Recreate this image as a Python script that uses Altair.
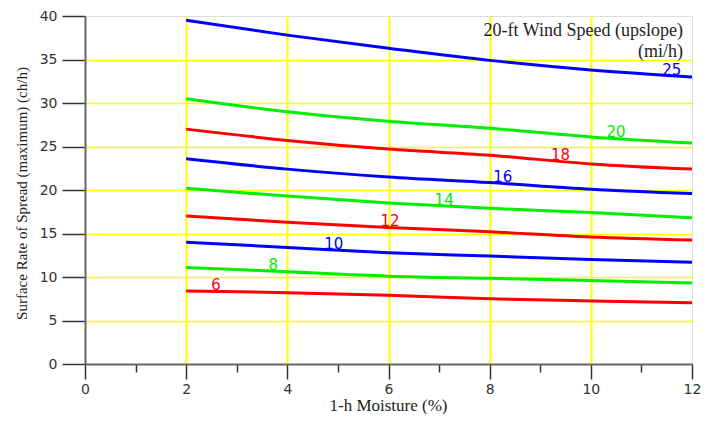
import altair as alt
import pandas as pd
import numpy as np

moisture = [2, 4, 6, 8, 10, 12]
wind_speeds = [6, 8, 10, 12, 14, 16, 18, 20, 25]
ros_6 = [8.4, 8.2, 7.9, 7.5, 7.25, 7.05]
ros_8 = [11.1, 10.6, 10.1, 9.85, 9.6, 9.3]
ros_10 = [14.0, 13.4, 12.8, 12.4, 12.0, 11.7]
ros_12 = [17.0, 16.3, 15.7, 15.2, 14.6, 14.25]
ros_14 = [20.2, 19.3, 18.5, 17.9, 17.4, 16.8]
ros_16 = [23.6, 22.4, 21.5, 20.85, 20.1, 19.6]
ros_18 = [27.0, 25.7, 24.7, 24.0, 23.0, 22.4]
ros_20 = [30.5, 29.0, 27.9, 27.1, 26.1, 25.4]
ros_25 = [39.5, 37.8, 36.3, 34.9, 33.8, 33.0]
series = [ros_6, ros_8, ros_10, ros_12, ros_14, ros_16, ros_18, ros_20, ros_25]
line_colors = ["#ff0000", "#00ee00", "#0000ff", "#ff0000", "#00ee00",
               "#0000ff", "#ff0000", "#00ee00", "#0000ff"]
label_moisture = [2.59, 3.72, 4.92, 6.03, 7.1, 8.26, 9.4, 10.5, 11.6]

rows = []
for ws, vals in zip(wind_speeds, series):
    for m, v in zip(moisture, vals):
        rows.append({"moisture": m, "ros": v, "wind": str(ws)})
df = pd.DataFrame(rows)

lab_rows = []
for ws, vals, lm in zip(wind_speeds, series, label_moisture):
    lab_rows.append({"moisture": lm, "ros": float(np.interp(lm, moisture, vals)),
                     "wind": str(ws)})
df_lab = pd.DataFrame(lab_rows)

dom = [str(w) for w in wind_speeds]
color_scale = alt.Scale(domain=dom, range=line_colors)

y_vals = [i * 2.5 for i in range(17)]
x_vals = list(range(13))

xscale = alt.Scale(domain=[0, 12], nice=False)
yscale = alt.Scale(domain=[0, 40], nice=False)

x_axis = alt.Axis(
    values=x_vals,
    labelExpr="datum.value % 2 === 0 ? datum.label : ''",
    labelFlush=False,
    tickSize={"condition": {"test": "datum.value % 2 === 0", "value": 15}, "value": 8},
    tickColor="#333333", tickWidth=1.5,
    grid=True, gridColor="#ffff00", gridWidth=2,
    gridOpacity={"condition": {"test": "datum.value % 2 === 0 && datum.value > 0 && datum.value < 12", "value": 1}, "value": 0},
    domainColor="#666666", domainWidth=2,
    labelFont="DejaVu Sans", labelFontSize=14, labelColor="#333333", labelPadding=3,
    title="1-h Moisture (%)", titleFont="Liberation Serif", titleFontSize=17,
    titleFontWeight="normal", titleColor="#222222",
    titleX=303, titleY=46, titleAlign="center", titleBaseline="alphabetic",
)
y_axis = alt.Axis(
    values=y_vals,
    labelExpr="datum.value % 5 === 0 ? datum.label : ''",
    tickSize={"condition": {"test": "datum.value % 5 === 0", "value": 23}, "value": 12},
    tickColor="#333333", tickWidth=1.5,
    grid=True, gridColor="#ffff00", gridWidth=1.5,
    gridOpacity={"condition": {"test": "datum.value % 5 === 0 && datum.value > 0 && datum.value < 40", "value": 1}, "value": 0},
    domainColor="#666666", domainWidth=2,
    labelFont="DejaVu Sans", labelFontSize=14, labelColor="#333333", labelPadding=5,
    title="Surface Rate of Spread (maximum) (ch/h)", titleFont="Liberation Serif",
    titleFontSize=15, titleFontWeight="normal", titleColor="#222222",
    titleX=-64, titleY=177, titleAlign="center", titleBaseline="middle", titleAngle=270,
)

lines = alt.Chart(df).mark_line(strokeWidth=3, interpolate="monotone").encode(
    x=alt.X("moisture:Q", scale=xscale, axis=x_axis),
    y=alt.Y("ros:Q", scale=yscale, axis=y_axis),
    color=alt.Color("wind:N", scale=color_scale, legend=None),
    detail="wind:N",
)

labels = alt.Chart(df_lab).mark_text(
    font="DejaVu Sans", fontSize=15, align="center", baseline="middle", dy=-6
).encode(
    x=alt.X("moisture:Q", scale=xscale),
    y=alt.Y("ros:Q", scale=yscale),
    text="wind:N",
    color=alt.Color("wind:N", scale=color_scale, legend=None),
)

note = alt.Chart(pd.DataFrame({"t": ["20-ft Wind Speed (upslope)\n(mi/h)"]})).mark_text(
    font="Liberation Serif", fontSize=18, align="right", baseline="middle",
    lineBreak="\n", lineHeight=21, color="#222222"
).encode(x=alt.value(598), y=alt.value(15), text="t:N")

chart = alt.layer(lines, labels, note).properties(
    width=607, height=348,
    padding={"left": 77, "top": 8, "right": 12, "bottom": 50},
    autosize=alt.AutoSizeParams(type="none"),
).configure_view(stroke="black", strokeWidth=2).configure(background="white")

chart.save("out.html", embed_options={"renderer": "svg", "actions": False})
